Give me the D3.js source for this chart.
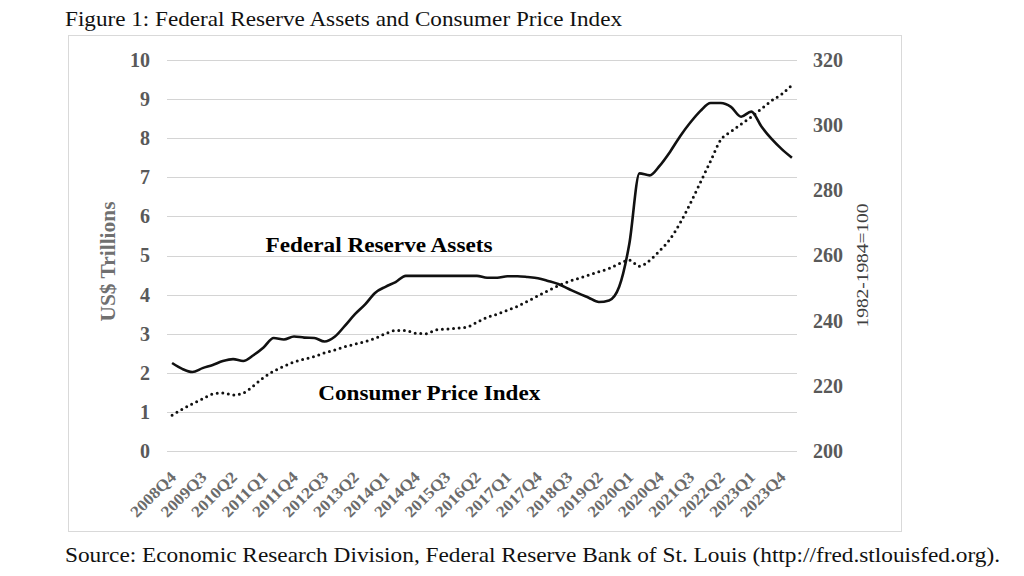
<!DOCTYPE html>
<html><head><meta charset="utf-8">
<script src="https://cdn.jsdelivr.net/npm/d3@7"></script>
<style>html,body{margin:0;padding:0;background:#fff;}svg{display:block;}</style>
</head><body>
<svg id="c" width="1024" height="576"></svg>
<script>
// ---- data ----
const quarters = [];
(function(){ let y=2008,q=4; for(let i=0;i<62;i++){ quarters.push(y+"Q"+q); q++; if(q>4){q=1;y++;} } })();
const fedAssets = [2.25,2.10,2.02,2.12,2.20,2.30,2.35,2.30,2.45,2.65,2.89,2.85,2.93,2.90,2.89,2.80,2.92,3.20,3.50,3.75,4.05,4.20,4.32,4.48,4.48,4.48,4.48,4.48,4.48,4.48,4.48,4.43,4.43,4.47,4.47,4.45,4.42,4.35,4.27,4.15,4.03,3.92,3.81,3.85,4.20,5.30,7.10,7.05,7.30,7.65,8.05,8.40,8.70,8.90,8.90,8.80,8.55,8.68,8.30,7.98,7.72,7.50];
const cpi = [211.0,212.8,214.5,216.0,217.5,217.8,217.2,217.8,220.0,222.5,224.5,226.0,227.3,228.2,229.0,230.1,231.0,232.0,232.8,233.6,234.6,236.0,237.0,237.0,236.1,236.0,237.2,237.4,237.7,238.0,239.5,241.0,242.0,243.2,244.4,246.0,247.6,249.2,250.7,252.0,253.0,254.0,255.0,256.0,257.5,258.6,256.7,258.5,261.5,265.0,270.0,276.0,282.5,289.0,295.5,298.0,300.3,302.5,305.0,307.5,309.5,312.3];
const leftTicks = [0,1,2,3,4,5,6,7,8,9,10];
const rightTicks = [200,220,240,260,280,300,320];
const xLabelQuarters = quarters.filter((d,i)=>i%3===0);
const title = "Figure 1: Federal Reserve Assets and Consumer Price Index";
const source = "Source: Economic Research Division, Federal Reserve Bank of St. Louis (http://fred.stlouisfed.org).";

// ---- layout ----
const svg = d3.select("#c");
const L = 167, R = 797, T = 60, B = 451;
const serif = "'Liberation Serif','Times New Roman',serif";
const x = d3.scalePoint().domain(quarters).range([L,R]).padding(0.5);
const yL = d3.scaleLinear().domain([0,10]).range([B,T]);
const yR = d3.scaleLinear().domain([200,320]).range([B,T]);

function fit(sel, w){ sel.attr("textLength", w).attr("lengthAdjust","spacingAndGlyphs"); return sel; }

// title
fit(svg.append("text").attr("x",65).attr("y",26).attr("font-family",serif).attr("font-size",21).attr("fill","#111").text(title), 557);

// chart frame
svg.append("rect").attr("x",68.5).attr("y",35.5).attr("width",833).attr("height",496).attr("fill","none").attr("stroke","#d9d9d9").attr("stroke-width",1);

// gridlines
svg.append("g").selectAll("line").data(leftTicks).join("line")
  .attr("x1",L).attr("x2",R).attr("y1",d=>Math.round(yL(d))+0.5).attr("y2",d=>Math.round(yL(d))+0.5)
  .attr("stroke","#d4d4d4").attr("stroke-width",1);

// left axis labels
const gl = svg.append("g").attr("transform",`translate(${L-17},0)`)
  .call(d3.axisLeft(yL).tickValues(leftTicks).tickSize(0).tickPadding(0));
gl.select(".domain").remove();
gl.selectAll("text").attr("font-family",serif).attr("font-size",20).attr("font-weight","bold").attr("fill","#595959");

// right axis labels
const gr = svg.append("g").attr("transform",`translate(${R+16},0)`)
  .call(d3.axisRight(yR).tickValues(rightTicks).tickSize(0).tickPadding(0));
gr.select(".domain").remove();
gr.selectAll("text").attr("font-family",serif).attr("font-size",20).attr("font-weight","bold").attr("fill","#595959");

// x labels
svg.append("g").selectAll("text").data(xLabelQuarters).join("text")
  .attr("transform",d=>`translate(${x(d)+5},${B+27}) rotate(-45)`)
  .attr("text-anchor","end").attr("font-family",serif).attr("font-size",16).attr("font-weight","bold")
  .attr("fill","#6b6b6b").attr("textLength",57).attr("lengthAdjust","spacingAndGlyphs").text(d=>d);

// axis titles
fit(svg.append("text").attr("transform",`translate(115,${(T+B)/2+6}) rotate(-90)`).attr("text-anchor","middle")
  .attr("font-family",serif).attr("font-size",20).attr("font-weight","bold").attr("fill","#707070").text("US$ Trillions"), 120);
fit(svg.append("text").attr("transform",`translate(868,${(T+B)/2+10}) rotate(-90)`).attr("text-anchor","middle")
  .attr("font-family",serif).attr("font-size",17).attr("fill","#404040").text("1982-1984=100"), 124);

// lines
const lineFed = d3.line().x((d,i)=>x(quarters[i])).y(d=>yL(d)).curve(d3.curveMonotoneX);
const lineCpi = d3.line().x((d,i)=>x(quarters[i])).y(d=>yR(d)).curve(d3.curveMonotoneX);
svg.append("path").attr("d",lineCpi(cpi)).attr("fill","none").attr("stroke","#111")
  .attr("stroke-width",3).attr("stroke-linecap","round").attr("stroke-dasharray","0 5.6");
svg.append("path").attr("d",lineFed(fedAssets)).attr("fill","none").attr("stroke","#111")
  .attr("stroke-width",2.6).attr("stroke-linejoin","round");

// annotations
fit(svg.append("text").attr("x",x(quarters[9])+2).attr("y",yL(5.08)).attr("font-family",serif).attr("font-size",22).attr("font-weight","bold").attr("fill","#000").text("Federal Reserve Assets"), 227);
fit(svg.append("text").attr("x",x(quarters[14])+4).attr("y",yL(1.3)).attr("font-family",serif).attr("font-size",22).attr("font-weight","bold").attr("fill","#000").text("Consumer Price Index"), 222);

// source
fit(svg.append("text").attr("x",65).attr("y",562).attr("font-family",serif).attr("font-size",21).attr("fill","#111").text(source), 935);
</script>
</body></html>
